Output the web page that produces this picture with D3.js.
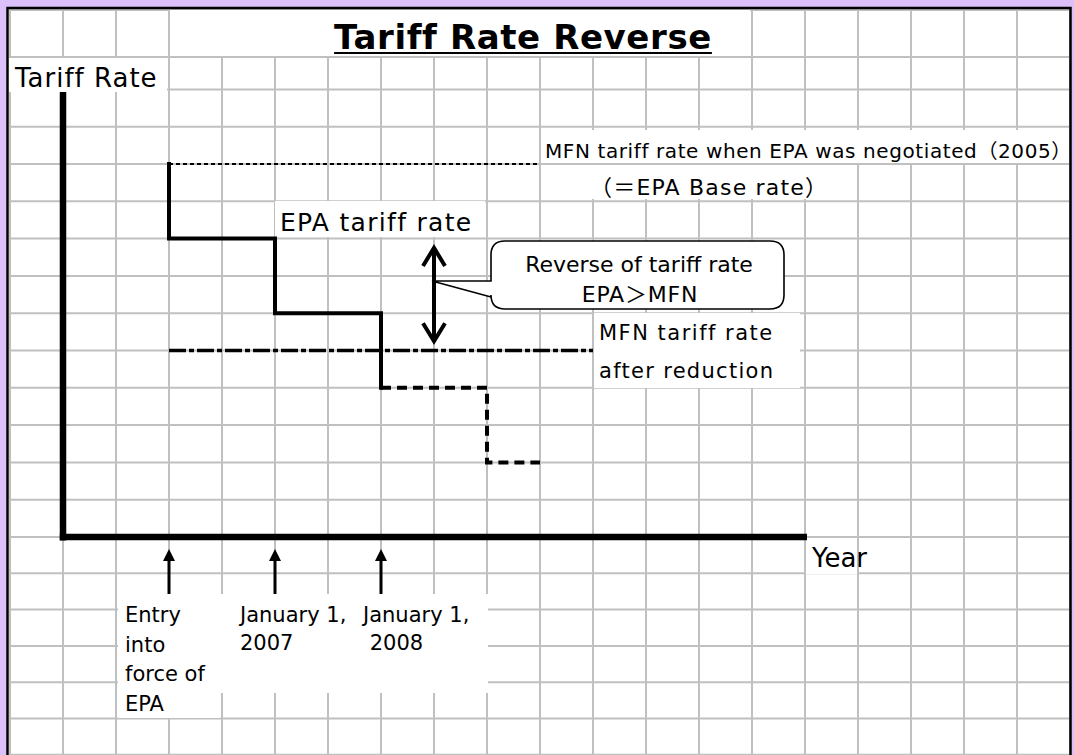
<!doctype html>
<html>
<head>
<meta charset="utf-8">
<style>
    body { margin: 0; background: #dcc0fa; }
    svg { display: block; }
    text { font-family: "DejaVu Sans", "Noto Sans CJK JP", sans-serif; fill: #000; }
</style>
<script src="https://d3js.org/d3.v7.min.js"></script>
</head>
<body>
<svg width="1074" height="755"></svg>
<script>
// ---- data (grid units on the x axis, rate units on the y axis) ----
var milestones = ["Entry into force of EPA", "January 1, 2007", "January 1, 2008"];
var milestoneLines = [["Entry", "into", "force of", "EPA"], ["January 1,", "2007"], ["January 1,", " 2008"]];
var stageStart = [2, 4, 6, 8];          // when each EPA cut takes effect
var epaRate = [8, 6, 4, 2];             // EPA rate after each cut
var epaBase = 10;                       // MFN rate when EPA was negotiated (= EPA base rate)
var epaEnd = 9;                         // last stage drawn up to here
var currentStages = 3;                  // cuts up to Jan 2008 are drawn solid
var mfnReduced = 5;                     // MFN rate after reduction
var mfnBaseEnd = 9, mfnReducedEnd = 10;
var gapArrow = [7, 7.75, 5.25];         // x, top, bottom of the reverse arrow

var svg = d3.select("svg");

var x = d3.scaleLinear().domain([0, 14]).range([63, 805]);
var y = d3.scaleLinear().domain([0, 10]).range([537, 164]);

// paper
svg.append("rect").attr("x", 8).attr("y", 8).attr("width", 1062).attr("height", 760).attr("fill", "#fff");

// grid
var grid = svg.append("g").attr("stroke", "#c0c0c0").attr("stroke-width", 2);
d3.range(-1, 20).forEach(function(k) {
    grid.append("line").attr("x1", x(k)).attr("x2", x(k)).attr("y1", 9).attr("y2", 755);
});
var rows = [10, 57].concat(d3.range(12, 0, -1).map(function(k) { return y(k); }), [y(0)]);
d3.range(1, 7).forEach(function(i) { rows.push(y(0) + 36.3 * i); });
rows.forEach(function(r) {
    grid.append("line").attr("x1", 9).attr("x2", 1070).attr("y1", r).attr("y2", r);
});

// white text boxes over the grid
var boxes = [[170, 10, 580, 46], [9, 58, 158, 34], [541, 130, 528, 33], [541, 165, 316, 34],
             [275, 201, 210, 36], [594, 313, 206, 75], [806, 538, 51, 36],
             [118, 594, 370, 99], [118, 693, 102, 25]];
svg.append("g").selectAll("rect").data(boxes).enter().append("rect")
    .attr("x", function(d) { return d[0]; }).attr("y", function(d) { return d[1]; })
    .attr("width", function(d) { return d[2]; }).attr("height", function(d) { return d[3]; })
    .attr("fill", "#fff");

// axes
svg.append("line").attr("x1", x(0)).attr("x2", x(0)).attr("y1", 92).attr("y2", y(0) + 3.5)
    .attr("stroke", "#000").attr("stroke-width", 6.5);
svg.append("line").attr("x1", x(0) - 3.2).attr("x2", 807).attr("y1", y(0)).attr("y2", y(0))
    .attr("stroke", "#000").attr("stroke-width", 6.5);

// MFN base rate (dotted)
svg.append("line").attr("x1", x(stageStart[0])).attr("x2", x(mfnBaseEnd))
    .attr("y1", y(epaBase)).attr("y2", y(epaBase))
    .attr("stroke", "#000").attr("stroke-width", 2).attr("stroke-dasharray", "4,3");

// MFN after reduction (dash-dot)
svg.append("line").attr("x1", x(stageStart[0])).attr("x2", x(mfnReducedEnd))
    .attr("y1", y(mfnReduced)).attr("y2", y(mfnReduced))
    .attr("stroke", "#000").attr("stroke-width", 3.5).attr("stroke-dasharray", "17,3,5,3");

// EPA tariff rate steps
var pts = [[stageStart[0], epaBase]];
var prev = epaBase;
stageStart.forEach(function(s, i) {
    pts.push([s, prev]);
    pts.push([s, epaRate[i]]);
    prev = epaRate[i];
});
pts.push([epaEnd, prev]);
pts = pts.slice(1);
var splitAt = currentStages * 2;
var line = d3.line().x(function(d) { return x(d[0]); }).y(function(d) { return y(d[1]); });
svg.append("path").attr("d", line(pts.slice(0, splitAt)))
    .attr("fill", "none").attr("stroke", "#000").attr("stroke-width", 4).attr("stroke-linecap", "square");
svg.append("path").attr("d", line(pts.slice(splitAt - 1)))
    .attr("fill", "none").attr("stroke", "#000").attr("stroke-width", 4).attr("stroke-dasharray", "10,6");

// reverse arrow
var ax = x(gapArrow[0]), at = y(gapArrow[1]), ab = y(gapArrow[2]);
var arr = svg.append("g").attr("stroke", "#000").attr("stroke-width", 4).attr("fill", "none");
arr.append("line").attr("x1", ax).attr("x2", ax).attr("y1", at + 2).attr("y2", ab - 2);
arr.append("path").attr("d", "M" + (ax - 11) + "," + (at + 18) + "L" + ax + "," + at + "L" + (ax + 11) + "," + (at + 18));
arr.append("path").attr("d", "M" + (ax - 11) + "," + (ab - 18) + "L" + ax + "," + ab + "L" + (ax + 11) + "," + (ab - 18));

// callout
var cl = 491, cr = 784, ct = 241, cb = 309, r = 14, tipY = 281;
svg.append("path")
    .attr("d", "M" + (cl + r) + "," + ct + "H" + (cr - r) + "Q" + cr + "," + ct + " " + cr + "," + (ct + r) +
               "V" + (cb - r) + "Q" + cr + "," + cb + " " + (cr - r) + "," + cb +
               "H" + (cl + r) + "Q" + cl + "," + cb + " " + cl + "," + (cb - r) +
               "V" + (tipY + 16) + "L" + (ax - 2) + "," + tipY + "L" + cl + "," + tipY +
               "V" + (ct + r) + "Q" + cl + "," + ct + " " + (cl + r) + "," + ct + "Z")
    .attr("fill", "#fff").attr("stroke", "#000").attr("stroke-width", 1.6);
svg.append("text").attr("x", 639).attr("y", 272).attr("text-anchor", "middle").attr("font-size", 22)
    .text("Reverse of tariff rate");
svg.append("text").attr("x", 640).attr("y", 302).attr("text-anchor", "middle").attr("font-size", 22)
    .attr("letter-spacing", 0.8).text("EPA＞MFN");

// milestone arrows
var ms = svg.append("g");
milestones.forEach(function(m, i) {
    var mx = x(stageStart[i]);
    ms.append("line").attr("x1", mx).attr("x2", mx).attr("y1", 594).attr("y2", 558)
        .attr("stroke", "#000").attr("stroke-width", 3);
    ms.append("path").attr("d", "M" + (mx - 6) + ",561L" + mx + ",549L" + (mx + 6) + ",561Z").attr("fill", "#000");
});
var labelX = [125, 240, 363];
milestoneLines.forEach(function(lines, i) {
    var t = ms.append("text").attr("font-size", 21).attr("x", labelX[i]).attr("y", 622).attr("xml:space", "preserve");
    lines.forEach(function(l, j) {
        t.append("tspan").attr("x", labelX[i]).attr("y", 622 + j * (i === 0 ? 29.7 : 27.5)).text(l);
    });
});

// labels
var title = svg.append("text").attr("x", 523).attr("y", 49).attr("text-anchor", "middle")
    .attr("font-size", 34).attr("font-weight", "bold").attr("letter-spacing", 0.6).text("Tariff Rate Reverse");
var tb = title.node().getBBox();
svg.append("line").attr("x1", tb.x).attr("x2", tb.x + tb.width).attr("y1", 53).attr("y2", 53)
    .attr("stroke", "#000").attr("stroke-width", 2);

svg.append("text").attr("x", 15).attr("y", 87).attr("font-size", 26).attr("letter-spacing", 1).text("Tariff Rate");
svg.append("text").attr("x", 812).attr("y", 567).attr("font-size", 26).text("Year");
svg.append("text").attr("x", 280).attr("y", 231).attr("font-size", 25).attr("letter-spacing", 1.3).text("EPA tariff rate");
svg.append("text").attr("x", 545).attr("y", 158).attr("font-size", 20).attr("letter-spacing", 0.6)
    .text("MFN tariff rate when EPA was negotiated（2005）");
svg.append("text").attr("x", 590).attr("y", 195).attr("font-size", 22).attr("letter-spacing", 1.2).text("（＝EPA Base rate）");
svg.append("text").attr("x", 599).attr("y", 340).attr("font-size", 21).attr("letter-spacing", 1.5).text("MFN tariff rate");
svg.append("text").attr("x", 599).attr("y", 378).attr("font-size", 21).attr("letter-spacing", 1.3).text("after reduction");

// frame
svg.append("rect").attr("x", 7.5).attr("y", 8).attr("width", 1063).attr("height", 760)
    .attr("fill", "none").attr("stroke", "#000").attr("stroke-width", 2.5);
</script>
</body>
</html>
